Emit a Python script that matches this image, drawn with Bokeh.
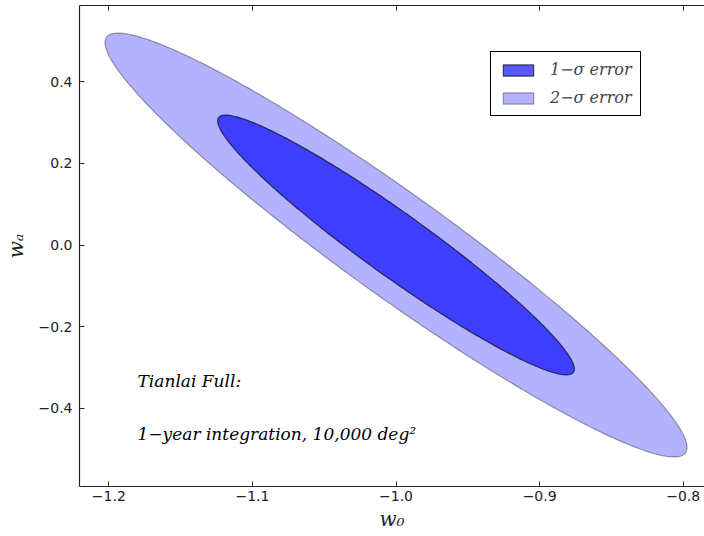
import numpy as np
from bokeh.plotting import figure
from bokeh.models import (LinearAxis, FixedTicker, Legend, LegendItem, Label,
                          Range1d, CustomJSTickFormatter)
from bokeh.embed import file_html
from bokeh.resources import INLINE

# ---- data (Fisher forecast for w0, wa) ----
center_w0 = -1.0
center_wa = 0.0
sigma_w0 = 0.0817
sigma_wa = 0.2097
rho = -0.955
level_labels = ["1\u2212\u03c3 error", "2\u2212\u03c3 error"]
level_scales = [1.52, 2.48]

x_ticks = [-1.2, -1.1, -1.0, -0.9, -0.8]
x_tick_labels = ["\u22121.2", "\u22121.1", "\u22121.0", "\u22120.9", "\u22120.8"]
y_ticks = [-0.4, -0.2, 0.0, 0.2, 0.4]
y_tick_labels = ["\u22120.4", "\u22120.2", "0.0", "0.2", "0.4"]

annotation_lines = ["Tianlai Full:", "1\u2212year integration, 10,000 deg\u00b2"]

x_label = "w\u2080"
y_label = "w\u2090"

# ---- ellipse geometry from covariance ----
cov = np.array([[sigma_w0**2, rho * sigma_w0 * sigma_wa],
                [rho * sigma_w0 * sigma_wa, sigma_wa**2]])
L = np.linalg.cholesky(cov)
t = np.linspace(0, 2 * np.pi, 400)
circle = np.vstack([np.cos(t), np.sin(t)])

def ellipse(scale):
    pts = scale * (L @ circle)
    return pts[0] + center_w0, pts[1] + center_wa

p = figure(frame_width=625, frame_height=481,
           x_range=Range1d(-1.2204, -0.7852), y_range=Range1d(-0.5926, 0.5877),
           output_backend="svg", toolbar_location=None,
           min_border_left=79, min_border_right=0, min_border_top=5,
           min_border_bottom=0)
p.outline_line_color = None
p.grid.visible = False
p.background_fill_color = "white"
p.border_fill_color = "white"

ox, oy = ellipse(level_scales[1])
r_outer = p.patch(ox, oy, fill_color="blue", fill_alpha=0.3,
                  line_color="black", line_alpha=0.35, line_width=1.2)
ix, iy = ellipse(level_scales[0])
r_inner = p.patch(ix, iy, fill_color="blue", fill_alpha=0.65,
                  line_color="black", line_alpha=0.65, line_width=1.2)

def style_axis(ax, ticks, labels):
    ax.ticker = FixedTicker(ticks=ticks)
    ax.major_label_overrides = {tk: lb for tk, lb in zip(ticks, labels)}
    ax.major_tick_in = 5
    ax.major_tick_out = 0
    ax.minor_tick_line_color = None
    ax.axis_line_color = "#222222"
    ax.axis_line_width = 1.2
    ax.major_tick_line_color = "#222222"
    ax.major_label_text_font = "DejaVu Sans"
    ax.major_label_text_font_size = "14px"
    ax.major_label_text_color = "#222222"
    ax.axis_label_text_font = "DejaVu Serif"
    ax.axis_label_text_font_style = "italic"
    ax.axis_label_text_font_size = "20px"
    ax.axis_label_text_color = "#222222"

style_axis(p.xaxis[0], x_ticks, x_tick_labels)
style_axis(p.yaxis[0], y_ticks, y_tick_labels)
p.xaxis[0].axis_label = x_label
p.yaxis[0].axis_label = y_label
p.xaxis[0].major_label_standoff = 4
p.xaxis[0].axis_label_standoff = 3
p.yaxis[0].major_label_standoff = 7
p.yaxis[0].axis_label_standoff = 8

top = LinearAxis(ticker=FixedTicker(ticks=x_ticks),
                 formatter=CustomJSTickFormatter(code="return ''"),
                 major_tick_in=5, major_tick_out=0, major_label_standoff=0,
                 major_label_text_font_size="0px",
                 minor_tick_line_color=None, axis_line_color="#222222",
                 axis_line_width=1.2, major_tick_line_color="#222222")
p.add_layout(top, "above")

ann_x = -1.18
ann_y = [-0.333, -0.4626]
for ly, txt in zip(ann_y, annotation_lines):
    p.add_layout(Label(x=ann_x, y=ly, text=txt, text_font="DejaVu Serif",
                       text_font_style="italic", text_font_size="17px",
                       text_baseline="middle", text_color="black"))

legend = Legend(items=[LegendItem(label=level_labels[0], renderers=[r_inner]),
                       LegendItem(label=level_labels[1], renderers=[r_outer])],
                location=(411, 370))
legend.border_line_color = "black"
legend.border_line_width = 1
legend.border_line_alpha = 1
legend.background_fill_color = "white"
legend.background_fill_alpha = 1
legend.label_text_font = "DejaVu Serif"
legend.label_text_font_style = "italic"
legend.label_text_font_size = "16px"
legend.glyph_width = 38
legend.glyph_height = 14
legend.label_standoff = 13
legend.padding = 8
legend.spacing = 9
legend.margin = 0
p.add_layout(legend)

open("out.html", "w").write(file_html(p, INLINE))
